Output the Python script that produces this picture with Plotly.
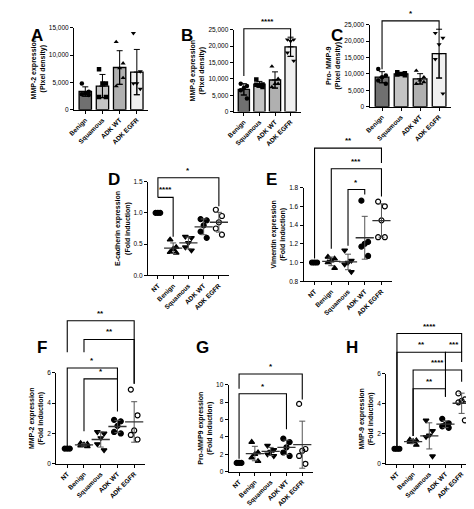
import plotly.graph_objects as go
import numpy as np

W, H = 474, 509
FONT = "Liberation Sans"

cats4 = ["Benign", "Squamous", "ADK WT", "ADK EGFR"]
cats5 = ["NT", "Benign", "Squamous", "ADK WT", "ADK EGFR"]

A_vals = [[4800, 3300, 3000, 2800, 2700], [7400, 4800, 4800, 2300, 2300],
          [12400, 8500, 7600, 4300, 5800], [14000, 7000, 4800, 4800, 3800]]
B_vals = [[8500, 7800, 7200, 6500, 4000], [9800, 8300, 8000, 8200, 7500],
          [13800, 10000, 8500, 7500, 8500], [22000, 22000, 21500, 18000, 15500]]
C_vals = [[11500, 9500, 9000, 8000, 7000], [10500, 10200, 10000, 9800, 9600],
          [11000, 9000, 8000, 7000, 7500], [22500, 21000, 19000, 14500, 4000]]
D_vals = [[1, 1, 1], [0.57, 0.45, 0.42, 0.37, 0.36], [0.62, 0.6, 0.52, 0.45, 0.4],
          [0.9, 0.88, 0.8, 0.7, 0.6], [1.05, 0.95, 0.85, 0.75, 0.65]]
E_vals = [[1, 1, 1], [1.06, 1.04, 1.02, 1.0, 0.94], [1.13, 1.02, 1.0, 0.98, 0.9],
          [1.66, 1.22, 1.2, 1.17, 1.07], [1.65, 1.6, 1.45, 1.27, 1.27]]
F_vals = [[1, 1, 1], [1.35, 1.3, 1.25, 1.2, 1.15], [2.1, 2.0, 1.7, 1.3, 0.9],
          [2.9, 2.8, 2.5, 2.1, 2.0], [4.9, 3.2, 2.2, 1.9, 1.6]]
G_vals = [[1, 1, 1], [3.4, 2.2, 2.0, 1.6, 1.2], [3.0, 2.5, 2.3, 2.0, 1.8],
          [3.8, 3.4, 2.8, 2.2, 1.8], [7.8, 2.6, 2.4, 1.8, 0.9]]
H_vals = [[1, 1, 1], [1.6, 1.55, 1.5, 1.45, 1.25], [2.9, 2.2, 1.9, 1.8, 0.5],
          [3.0, 2.7, 2.6, 2.5, 2.4], [4.7, 4.3, 4.2, 4.1, 2.9]]

bar_colors = ["#707070", "#c4c4c4", "#b0b0b0", "#f0f0f0"]
sym_bar = ["circle", "square", "triangle-up", "triangle-down"]
sym_dot = ["circle", "triangle-up", "triangle-down", "circle", "circle-open"]

panels = [
    ("A", A_vals, cats4, "bar", (60, 135, 16, 99), [0, 15000], [0, 5000, 10000, 15000],
     "MMP-2 expression<br>(Pixel density)", ",", (14, 12)),
    ("B", B_vals, cats4, "bar", (222, 290, 18, 101), [0, 25000], [0, 5000, 10000, 15000, 20000, 25000],
     "MMP-9 expression<br>(Pixel density)", ",", (175, 12)),
    ("C", C_vals, cats4, "bar", (360, 443, 13, 96), [0, 25000], [0, 5000, 10000, 15000, 20000, 25000],
     "Pro- MMP-9<br>(Pixel density)", ",", (335, 12)),
    ("D", D_vals, cats5, "dot", (135, 217, 172, 267), [0, 1.5], [0, 0.5, 1.0, 1.5],
     "E-cadherin expression<br>(Fold induction)", ".1f", (92, 158)),
    ("E", E_vals, cats5, "dot", (293, 383, 178, 273), [0.8, 1.8], [0.8, 1.0, 1.2, 1.4, 1.6, 1.8],
     "Vimentin expression<br>(Fold induction)", ".1f", (260, 158)),
    ("F", F_vals, cats5, "dot", (42, 132, 366, 458), [0, 6], [0, 2, 4, 6],
     "MMP-2 expression<br>(Fold induction)", "d", (20, 352)),
    ("G", G_vals, cats5, "dot", (217, 302, 378, 466), [0, 10], [0, 2, 4, 6, 8, 10],
     "Pro-MMP9 expression<br>(Fold induction)", "d", (190, 352)),
    ("H", H_vals, cats5, "dot", (377, 464, 367, 458), [0, 6], [0, 2, 4, 6],
     "MMP-9 expression<br>(Fold induction)", "d", (350, 352)),
]

brackets = [
    (1, 0, 3, 17, 65, 27, "****"),
    (2, 0, 3, 9, 58, 18, "*"),
    (3, 0, 4, 168, 188, 197, "*"),
    (3, 0, 1, 188, 188, 228, "****"),
    (4, 0, 4, 138, 250, 153, "**"),
    (4, 1, 4, 159, 240, 187, "***"),
    (4, 2, 3, 180, 237, 185, "*"),
    (5, 0, 4, 313, 345, 377, "**"),
    (5, 1, 4, 332, 345, 377, "**"),
    (5, 0, 3, 361, 440, 372, "*"),
    (5, 1, 3, 372, 425, 405, "*"),
    (6, 0, 4, 367, 382, 393, "*"),
    (6, 0, 3, 387, 453, 423, "*"),
    (7, 0, 4, 326, 440, 345, "****"),
    (7, 0, 3, 345, 440, 390, "**"),
    (7, 3, 4, 345, 355, 355, "***"),
    (7, 1, 4, 363, 430, 375, "****"),
    (7, 1, 3, 382, 430, 390, "**"),
]

offs = {3: [-0.15, 0, 0.15], 5: [-0.2, 0.2, 0, -0.2, 0.2]}

fig = go.Figure()
layout = {}
annotations = []
shapes = []
for k, (letter, vals, cats, kind, box, yr, ticks, title, fmt, lp) in enumerate(panels):
    n = k + 1
    xa = "x" if n == 1 else f"x{n}"
    ya = "y" if n == 1 else f"y{n}"
    x0, x1, yt, yb = box
    layout[f"xaxis{'' if n == 1 else n}"] = dict(
        domain=[x0 / W, x1 / W], range=[-0.65, len(cats) - 0.35], tickvals=list(range(len(cats))),
        ticktext=[f"<b>{c}</b>" for c in cats], tickangle=-45, showline=True, linecolor="black",
        linewidth=1.3, ticks="outside", ticklen=3, tickcolor="black", showgrid=False, zeroline=False,
        tickfont=dict(size=6.5, family=FONT, color="black"), anchor=ya, fixedrange=True)
    layout[f"yaxis{'' if n == 1 else n}"] = dict(
        domain=[1 - yb / H, 1 - yt / H], range=yr, tickvals=ticks, tickformat=fmt,
        showline=True, linecolor="black", linewidth=1.3, ticks="outside", ticklen=3,
        tickcolor="black", showgrid=False, zeroline=False,
        tickfont=dict(size=6.5, family=FONT, color="black"), anchor=xa,
        title=dict(text=f"<b>{title}</b>", font=dict(size=7, family=FONT, color="black"), standoff=2))
    for i, v in enumerate(vals):
        v = np.array(v, float)
        m, s = v.mean(), v.std(ddof=1) if len(v) > 1 else 0.0
        xs = [i + o for o in offs[len(v)]]
        if kind == "bar":
            fig.add_trace(go.Bar(x=[i], y=[m], width=0.72, marker=dict(color=bar_colors[i],
                          line=dict(color="black", width=1.3)),
                          error_y=dict(type="data", array=[s], color="black", width=3, thickness=1),
                          xaxis=xa, yaxis=ya, showlegend=False))
            fig.add_trace(go.Scatter(x=[i], y=[m], mode="markers", marker=dict(size=0.1, color="black"),
                          error_y=dict(type="data", arrayminus=[s], array=[0], symmetric=False,
                                       color="black", width=3, thickness=1),
                          xaxis=xa, yaxis=ya, showlegend=False))
            fig.add_trace(go.Scatter(x=xs, y=v, mode="markers",
                          marker=dict(symbol=sym_bar[i], size=4.5, color="black"),
                          xaxis=xa, yaxis=ya, showlegend=False))
        else:
            fig.add_trace(go.Scatter(x=xs, y=v, mode="markers",
                          marker=dict(symbol=sym_dot[i], size=5, color="black",
                                      line=dict(color="black", width=1.2)),
                          xaxis=xa, yaxis=ya, showlegend=False))
            if len(v) > 3:
                fig.add_trace(go.Scatter(x=[i], y=[m], mode="markers",
                              marker=dict(symbol="line-ew-open", size=13, color="#333",
                                          line=dict(color="#333", width=1.3)),
                              error_y=dict(type="data", array=[s], color="#555", width=3, thickness=1),
                              xaxis=xa, yaxis=ya, showlegend=False))
    annotations.append(dict(text=f"<b>{letter}</b>", x=lp[0] / W, y=1 - lp[1] / H, xref="paper",
                            yref="paper", showarrow=False, font=dict(size=17, family=FONT, color="black")))

for (p, i, j, yl, lb, rb, lab) in brackets:
    n = p + 1
    xa = "x" if n == 1 else f"x{n}"
    py = lambda v: 1 - v / H
    path = f"M {i},{py(lb)} L {i},{py(yl)} L {j},{py(yl)} L {j},{py(rb)}"
    shapes.append(dict(type="path", path=path, xref=xa, yref="paper",
                       line=dict(color="black", width=1.1)))
    annotations.append(dict(text=f"<b>{lab}</b>", x=(i + j) / 2, y=py(yl - 1), xref=xa, yref="paper",
                            showarrow=False, yanchor="bottom", font=dict(size=8, family=FONT, color="black")))

fig.update_layout(width=W, height=H, margin=dict(l=0, r=0, t=0, b=0), plot_bgcolor="white",
                  paper_bgcolor="white", annotations=annotations, shapes=shapes, **layout)
fig.write_html("out.html")
